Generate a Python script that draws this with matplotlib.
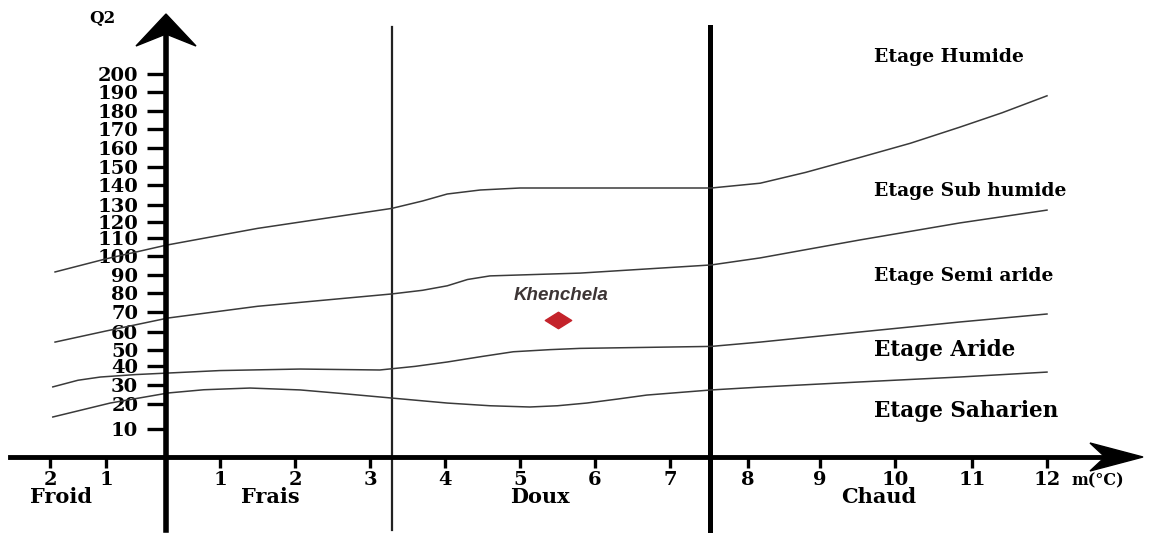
"""
Climagramme d'Emberger with the station of Khenchela.
"""

import matplotlib

matplotlib.use("Agg")
import matplotlib.pyplot as plt
import matplotlib.transforms as mtransforms
import numpy as np
from matplotlib.patches import Polygon
from matplotlib.path import Path
from matplotlib.ticker import NullLocator

W, H = 1150, 536

# the original axes are hand drawn: value -> pixel calibration
X_KNOTS = [-6, -2, -1, 0, 1, 2, 3, 4, 5, 6, 7, 8, 9, 10, 11, 12, 16]
X_PIX = [-178, 50, 106, 166, 220, 295, 370, 445, 520, 595, 670, 748, 820, 895, 972, 1047, 1347]
Y_KNOTS = [-40, 0, 10, 20, 30, 40, 50, 60, 70, 80, 90, 100,
           110, 120, 130, 140, 150, 160, 170, 180, 190, 200, 300]
Y_PIX = [569, 457, 429, 404, 385, 366, 350, 332, 312, 293, 275, 256,
         238, 222, 205, 185, 167, 148, 129, 111, 92, 74, -112]

X_TICKS = [-2, -1, 1, 2, 3, 4, 5, 6, 7, 8, 9, 10, 11, 12]
Y_TICKS = list(range(10, 201, 10))

# limits between thermal zones (m in degC)
ZONE_LIMITS = [3.29, 7.51]

# boundaries between bioclimatic stages
hum_m = [-1.91, -1.0, 0.0, 1.5, 3.29, 3.7, 4.03, 4.47, 5.0, 6.07, 7.53, 8.17, 8.8, 9.53, 10.2, 10.84, 11.4, 12.0]
hum_q = [91.6, 98.5, 106, 116, 128, 132, 135.5, 137.5, 138.5, 138.5, 138.5, 141, 147, 155, 162.5, 171, 179, 188]

sub_m = [-1.91, -1.0, 0.04, 1.5, 3.29, 3.7, 4.03, 4.3, 4.6, 5.8, 7.53, 8.17, 8.8, 9.53, 10.84, 12.0]
sub_q = [54.4, 60.5, 67, 73, 79.5, 81.5, 84, 87.5, 89.5, 91, 95.3, 99, 103.5, 108.9, 119.4, 127]

semi_m = [-1.95, -1.5, -1.1, -0.5, 0.04, 1.0, 2.07, 3.13, 3.6, 4.03, 4.5, 4.91, 5.4, 5.8, 7.53, 8.17, 9.53, 10.84, 12.0]
semi_q = [29, 32.5, 34.2, 35.5, 36.3, 37.6, 38.4, 37.9, 39.8, 42.5, 46, 48.9, 50.2, 50.9, 52, 54.4, 60, 65, 69]

arid_m = [-1.95, -0.93, 0.04, 0.7, 1.4, 2.07, 2.6, 3.13, 4.03, 4.6, 5.13, 5.5, 5.89, 6.3, 6.69, 7.53, 8.17, 9.53, 10.84, 12.0]
arid_q = [14.8, 20.5, 25.8, 27.5, 28.4, 27.4, 25.6, 23.7, 20.5, 19.3, 18.8, 19.3, 20.5, 22.6, 24.7, 27.4, 28.9, 31.6, 34.2, 36.8]

station = "Khenchela"
station_m = 5.5
station_q = 66

X_PIX = np.array(X_PIX, dtype=float)
NEG_Y = -np.array(Y_PIX, dtype=float)


def fwd_x(v):
    return np.interp(v, X_KNOTS, X_PIX)


def inv_x(p):
    return np.interp(p, X_PIX, X_KNOTS)


def fwd_y(v):
    return np.interp(v, Y_KNOTS, NEG_Y)


def inv_y(p):
    return np.interp(p, NEG_Y, Y_KNOTS)


plt.rcParams["font.family"] = ["DejaVu Serif"]
plt.rcParams["font.weight"] = "bold"

fig = plt.figure(figsize=(W / 100, H / 100), dpi=100)
ax = fig.add_axes([0, 0, 1, 1])
ax.set_xscale("function", functions=(fwd_x, inv_x))
ax.set_yscale("function", functions=(fwd_y, inv_y))
ax.set_xlim(inv_x(0), inv_x(W))
ax.set_ylim(inv_y(-H), inv_y(0))

# pixel transform (origin top left) for decorations
pt = mtransforms.Affine2D().scale(1 / W, -1 / H).translate(0, 1) + fig.transFigure

# axes through the origin
for side in ("top", "right"):
    ax.spines[side].set_visible(False)
ax.spines["left"].set_position(("data", 0))
ax.spines["bottom"].set_position(("data", 0))
ax.spines["left"].set_linewidth(4)
ax.spines["bottom"].set_linewidth(3.5)
ax.spines["left"].set_bounds(inv_y(-530), inv_y(-32))
ax.spines["bottom"].set_bounds(inv_x(10), inv_x(1110))

ax.set_xticks(X_TICKS)
ax.set_xticklabels([str(abs(t)) for t in X_TICKS])
ax.set_yticks(Y_TICKS)
ax.set_yticklabels([str(t) for t in Y_TICKS])
ax.xaxis.set_minor_locator(NullLocator())
ax.yaxis.set_minor_locator(NullLocator())
ax.tick_params(axis="y", direction="out", length=14, width=2.4, pad=6, labelsize=14)
ax.tick_params(axis="x", direction="out", length=8, width=2.4, pad=2, labelsize=14)

# arrow heads
ax.add_patch(Polygon([(166, 14), (196, 46), (166, 34), (136, 46)], closed=True,
                     transform=pt, color="black", clip_on=False))
ax.add_patch(Polygon([(1143, 457), (1090, 443), (1105, 457), (1090, 471)], closed=True,
                     transform=pt, color="black", clip_on=False))

# thermal zone limits
ax.plot([ZONE_LIMITS[0]] * 2, [inv_y(-530), inv_y(-27)], color="#222222", lw=1.6)
ax.plot([ZONE_LIMITS[1]] * 2, [inv_y(-530), inv_y(-27)], color="black", lw=3.6)

# stage boundaries
for mm, qq in [(hum_m, hum_q), (sub_m, sub_q), (semi_m, semi_q), (arid_m, arid_q)]:
    ax.plot(mm, qq, color="#3a3a3a", lw=1.1)

# station
diamond = Path([(-1.6, 0), (0, 1), (1.6, 0), (0, -1), (-1.6, 0)],
               [Path.MOVETO, Path.LINETO, Path.LINETO, Path.LINETO, Path.CLOSEPOLY])
ax.plot([station_m], [station_q], marker=diamond, markersize=19, color="#c4232b", ls="none")
ax.text(561, 295, station, transform=pt, family="Liberation Sans", style="italic",
        weight="bold", fontsize=13.5, color="#3d3535", ha="center", va="center")

# texts
ax.text(102, 19, "Q2", transform=pt, fontsize=12, ha="center", va="center")
ax.text(1072, 481, "m(°C)", transform=pt, fontsize=11.5, ha="left", va="center")
for label, x in [("Froid", 61), ("Frais", 270), ("Doux", 540), ("Chaud", 879)]:
    ax.text(x, 497, label, transform=pt, fontsize=15, ha="center", va="center")

for label, y, size in [("Etage Humide", 57, 13.5), ("Etage Sub humide", 191, 13.5),
                       ("Etage Semi aride", 276, 13.5), ("Etage Aride", 350, 15.5),
                       ("Etage Saharien", 411, 15.5)]:
    ax.text(874, y, label, transform=pt, fontsize=size, ha="left", va="center")

fig.savefig("out.png", dpi=100)
